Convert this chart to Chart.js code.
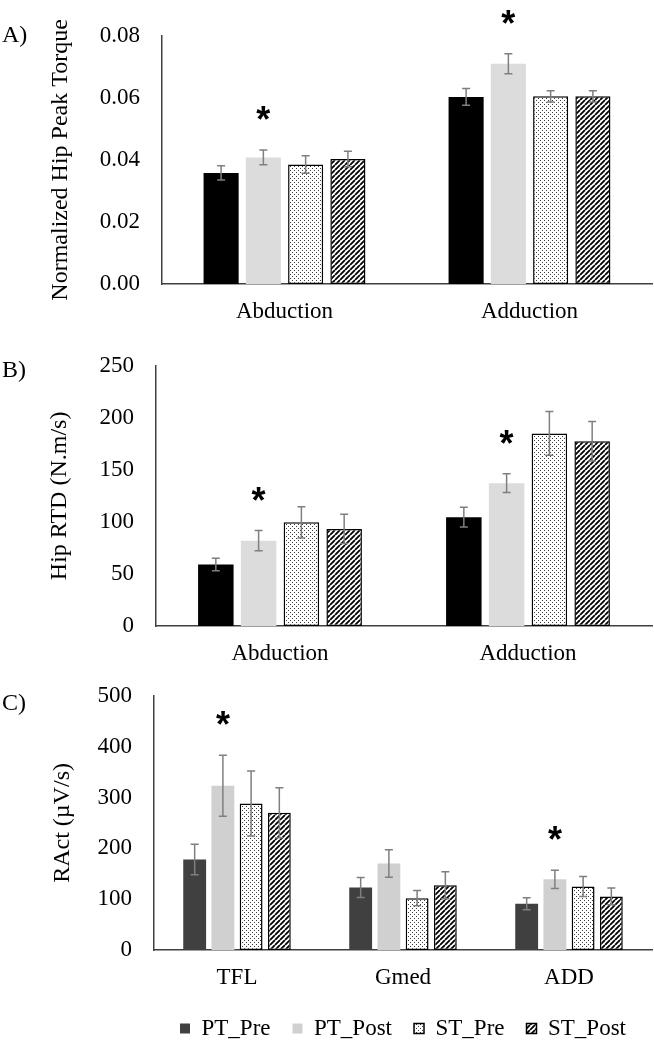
<!DOCTYPE html>
<html>
<head>
<meta charset="utf-8">
<script src="https://cdn.jsdelivr.net/npm/chart.js@4.4.1/dist/chart.umd.min.js"></script>
<style>
body { margin: 0; background: #fff; }
.panel { position: absolute; left: 0; width: 654px; }
#pa { top: 0; height: 330px; }
#pb { top: 330px; height: 340px; }
#pc { top: 660px; height: 390px; }
</style>
</head>
<body>
<div class="panel" id="pa"><canvas id="ca"></canvas></div>
<div class="panel" id="pb"><canvas id="cb"></canvas></div>
<div class="panel" id="pc"><canvas id="cc"></canvas></div>
<script>
// series + categories
var seriesNames = ["PT_Pre", "PT_Post", "ST_Pre", "ST_Post"];
var movementCats = ["Abduction", "Adduction"];
var muscleCats = ["TFL", "Gmed", "ADD"];

// A) normalized hip peak torque
var torquePtPre = [0.0358, 0.0603];
var torquePtPost = [0.0408, 0.0710];
var torqueStPre = [0.0385, 0.0605];
var torqueStPost = [0.0403, 0.0605];
var torquePtPreErr = [0.0023, 0.0027];
var torquePtPostErr = [0.0024, 0.0032];
var torqueStPreErr = [0.0028, 0.0018];
var torqueStPostErr = [0.0025, 0.0018];
var torqueTicks = [0, 0.02, 0.04, 0.06, 0.08];

// B) hip RTD
var rtdPtPre = [59, 104.6];
var rtdPtPost = [82, 137.2];
var rtdStPre = [99.6, 185];
var rtdStPost = [93.3, 177.5];
var rtdPtPreErr = [6, 9.4];
var rtdPtPostErr = [9.7, 9];
var rtdStPreErr = [15, 21];
var rtdStPostErr = [14, 19];
var rtdTicks = [0, 50, 100, 150, 200, 250];

// C) RAct
var ractPtPre = [178, 123, 91];
var ractPtPost = [323, 170, 139];
var ractStPre = [288, 102, 125];
var ractStPost = [270, 127.5, 105.4];
var ractPtPreErr = [30, 19.6, 12];
var ractPtPostErr = [60, 27, 18];
var ractStPreErr = [64, 15, 19.6];
var ractStPostErr = [49, 26.5, 16.4];
var ractTicks = [0, 100, 200, 300, 400, 500];

var serif = "'Liberation Serif', 'Times New Roman', serif";

function dotPattern() {
	var c = document.createElement("canvas");
	c.width = 4; c.height = 4;
	var g = c.getContext("2d");
	g.fillStyle = "#fff"; g.fillRect(0, 0, 4, 4);
	g.fillStyle = "#3a3a3a";
	g.fillRect(0, 0, 1, 1);
	g.fillRect(2, 2, 1, 1);
	return g.createPattern(c, "repeat");
}

function stripePattern() {
	var n = 5;
	var c = document.createElement("canvas");
	c.width = n; c.height = n;
	var g = c.getContext("2d");
	g.fillStyle = "#fff"; g.fillRect(0, 0, n, n);
	g.strokeStyle = "#000"; g.lineWidth = 1.8;
	g.beginPath();
	for (var k = -1; k <= 1; k++) {
		g.moveTo(k * n, n);
		g.lineTo(k * n + n, 0);
	}
	g.stroke();
	return g.createPattern(c, "repeat");
}

var dots = dotPattern();
var stripes = stripePattern();

// error bars, stars and panel letter
var errorBars = {
	id: "errorBars",
	afterDatasetsDraw: function(chart, args, opts) {
		var ctx = chart.ctx, y = chart.scales.y;
		ctx.save();
		ctx.strokeStyle = "#7f7f7f";
		ctx.lineWidth = 1.5;
		chart.data.datasets.forEach(function(ds, i) {
			chart.getDatasetMeta(i).data.forEach(function(bar, j) {
				var top = y.getPixelForValue(ds.data[j] + ds.err[j]);
				var bot = y.getPixelForValue(ds.data[j] - ds.err[j]);
				ctx.beginPath();
				ctx.moveTo(bar.x, top); ctx.lineTo(bar.x, bot);
				ctx.moveTo(bar.x - 4, top); ctx.lineTo(bar.x + 4, top);
				ctx.moveTo(bar.x - 4, bot); ctx.lineTo(bar.x + 4, bot);
				ctx.stroke();
			});
		});
		ctx.fillStyle = "#000";
		ctx.textAlign = "center";
		ctx.textBaseline = "alphabetic";
		ctx.font = "bold 36px 'Liberation Sans'";
		opts.stars.forEach(function(s) {
			var ds = chart.data.datasets[s[0]];
			var bar = chart.getDatasetMeta(s[0]).data[s[1]];
			var top = y.getPixelForValue(ds.data[s[1]] + ds.err[s[1]]);
			ctx.fillText("*", bar.x, top - 18);
		});
		ctx.textAlign = "left";
		ctx.font = "24px " + serif;
		ctx.fillText(opts.tag, 2, opts.tagY);
		ctx.restore();
	}
};

function makeChart(id, cats, vals, errs, ticks, cfg) {
	var fills = [cfg.pre, cfg.post, dots, stripes];
	var legend = { display: false };
	if (cfg.legend) {
		legend = {
			display: true, position: "bottom", fullSize: false, align: "center",
			labels: { color: "#000", font: { family: serif, size: 23 }, boxWidth: 10, boxHeight: 10, padding: 22 }
		};
	}
	return new Chart(document.getElementById(id), {
		type: "bar",
		data: {
			labels: cats,
			datasets: seriesNames.map(function(name, i) {
				return {
					label: name,
					data: vals[i],
					err: errs[i],
					backgroundColor: fills[i],
					borderColor: i < 2 ? "rgba(0,0,0,0)" : "#000",
					borderWidth: i < 2 ? 0 : 1.5,
					borderSkipped: false,
					categoryPercentage: cfg.cat,
					barPercentage: cfg.bar
				};
			})
		},
		options: {
			responsive: true,
			maintainAspectRatio: false,
			animation: false,
			layout: { padding: { top: cfg.top, right: 2, bottom: 0, left: 0 } },
			scales: {
				x: {
					grid: { display: false, drawTicks: false },
					border: { display: true, color: "#404040", width: 1.5 },
					ticks: { color: "#000", font: { family: serif, size: 23 }, padding: 14 },
					afterFit: function(s) { s.height = cfg.xh; }
				},
				y: {
					min: ticks[0],
					max: ticks[ticks.length - 1],
					grid: { display: false, drawTicks: false },
					border: { display: true, color: "#404040", width: 1.5 },
					afterBuildTicks: function(s) { s.ticks = ticks.map(function(v) { return { value: v }; }); },
					ticks: { color: "#000", font: { family: serif, size: 23 }, padding: 22,
						callback: function(v) { return cfg.fmt(v); } },
					title: { display: true, text: cfg.title, color: "#000",
						font: { family: serif, size: 24 }, padding: { top: cfg.titlePad, bottom: 0 } },
					afterFit: function(s) { s.width = cfg.left; }
				}
			},
			plugins: {
				legend: legend,
				tooltip: { enabled: false },
				errorBars: { stars: cfg.stars, tag: cfg.tag, tagY: cfg.tagY }
			}
		},
		plugins: [errorBars]
	});
}

makeChart("ca", movementCats,
	[torquePtPre, torquePtPost, torqueStPre, torqueStPost],
	[torquePtPreErr, torquePtPostErr, torqueStPreErr, torqueStPostErr],
	torqueTicks,
	{ pre: "#000", post: "#dcdcdc", cat: 0.69, bar: 0.83, top: 18, xh: 46, left: 162,
	  title: "Normalized Hip Peak Torque", titlePad: 46, fmt: function(v) { return v.toFixed(2); },
	  stars: [[1, 0], [1, 1]], tag: "A)", tagY: 42 });

makeChart("cb", movementCats,
	[rtdPtPre, rtdPtPost, rtdStPre, rtdStPost],
	[rtdPtPreErr, rtdPtPostErr, rtdStPreErr, rtdStPostErr],
	rtdTicks,
	{ pre: "#000", post: "#dcdcdc", cat: 0.69, bar: 0.83, top: 31, xh: 44, left: 156,
	  title: "Hip RTD (N.m/s)", titlePad: 45, fmt: function(v) { return String(v); },
	  stars: [[1, 0], [1, 1]], tag: "B)", tagY: 47 });

makeChart("cc", muscleCats,
	[ractPtPre, ractPtPost, ractStPre, ractStPost],
	[ractPtPreErr, ractPtPostErr, ractStPreErr, ractStPostErr],
	ractTicks,
	{ pre: "#404040", post: "#d0d0d0", cat: 0.68, bar: 0.81, top: 27, xh: 45, left: 154,
	  title: "RAct (\u00b5V/s)", titlePad: 48, fmt: function(v) { return String(v); },
	  stars: [[1, 0], [1, 2]], tag: "C)", tagY: 50, legend: true });
</script>
</body>
</html>
